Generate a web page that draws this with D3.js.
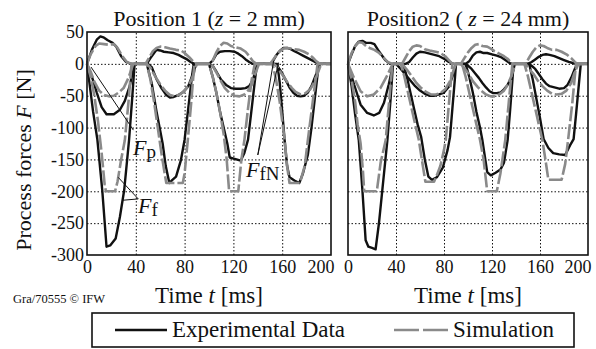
<!DOCTYPE html>
<html lang="en">
<head>
<meta charset="UTF-8">
<title>Process forces</title>
<script src="https://d3js.org/d3.v7.min.js"></script>
<style>
    body { margin: 0; background: #fff; }
    svg, svg text { font-family: "Liberation Serif", "Times New Roman", Times, "DejaVu Serif", serif !important; fill: #111; }
    .grid line { stroke: #111; stroke-width: 1; stroke-dasharray: 1.5,2; }
    .grid .domain { display: none; }
    .axis .domain { display: none; }
    .exp { fill: none; stroke: #111; stroke-width: 2.4; stroke-linejoin: round; }
    .sim { fill: none; stroke: #8a8a8a; stroke-width: 2.6; stroke-dasharray: 15,3; stroke-linejoin: round; }
</style>
</head>
<body>
<svg id="chart" width="596" height="349"></svg>
<script>
// time ticks / force ticks
const timeTicks = [0, 40, 80, 120, 160, 200];
const forceTicks = [50, 0, -50, -100, -150, -200, -250, -300];

// Position 1 (z = 2 mm), [t ms, F N]
const leftExpFp = [[0,0],[4,22],[8,38],[11,43],[14,41],[17,37],[21,33],[24,27],[28,12],[32,3],[36,0],
    [49,0],[52,9],[55,17],[57,22],[60,21],[63,19],[67,18],[71,17],[75,14],[78,11],[82,7],[85,3],[88,0],
    [100,0],[103,5],[106,15],[109,19],[113,20],[117,20],[121,19],[124,16],[127,12],[130,7],[133,3],[136,0],
    [151,0],[153,6],[155,13],[157,18],[159,22],[161,25],[164,25],[167,23],[170,20],[173,17],[177,13],[181,9],[185,5],[188,2],[190,0],[200,0]];
const leftSimFp = [[0,0],[3,15],[7,28],[10,32],[14,31],[18,30],[22,31],[25,25],[29,12],[33,2],[37,0],
    [48,0],[51,10],[54,20],[57,25],[60,27],[64,26],[68,24],[73,22],[77,21],[80,17],[84,10],[87,4],[90,0],
    [100,0],[103,5],[106,18],[109,28],[112,33],[115,32],[118,28],[122,26],[126,24],[130,19],[133,12],[136,4],[139,0],
    [150,0],[152,5],[155,13],[158,20],[161,24],[164,25],[167,24],[170,23],[174,22],[178,19],[182,15],[185,10],[188,4],[191,0],[200,0]];
const leftExpFfN = [[0,0],[4,-20],[8,-45],[12,-68],[16,-79],[22,-79],[27,-72],[31,-58],[35,-35],[38,-8],[39,0],
    [50,0],[53,-5],[57,-24],[61,-38],[65,-49],[68,-53],[71,-52],[75,-49],[79,-44],[83,-35],[86,-20],[89,-3],[90,0],
    [100,0],[103,-3],[106,-12],[110,-25],[114,-33],[118,-38],[122,-39],[126,-39],[130,-38],[133,-35],[136,-25],[138.5,-8],[140,0],
    [154,0],[157,-6],[160,-15],[163,-26],[166,-37],[169,-45],[172,-50],[175,-51],[178,-50],[181,-45],[184,-35],[187,-20],[190,-6],[191,0],[200,0]];
const leftSimFfN = [[0,0],[3,-12],[6,-28],[10,-42],[14,-49],[18,-51],[22,-50],[26,-45],[30,-38],[34,-22],[37,-5],[38,0],
    [49,0],[52,-6],[56,-20],[60,-32],[64,-42],[68,-49],[72,-51],[76,-48],[80,-42],[84,-32],[87,-18],[90,0],
    [100,0],[103,-3],[107,-17],[110,-28],[113,-38],[117,-46],[121,-50],[125,-51],[129,-48],[132,-42],[135,-33],[138,-15],[141,0],
    [153,0],[156,-5],[159,-14],[162,-22],[165,-31],[168,-38],[171,-44],[175,-48],[179,-46],[183,-40],[186,-30],[189,-15],[192,0],[200,0]];
const leftExpFf = [[0,0],[2,-30],[5,-75],[8.5,-119],[12.5,-198],[16,-287],[19,-285],[23.5,-274],[27,-240],[30.5,-198],[34.5,-119],[37,-55],[39,0],
    [49,0],[53,-30],[57,-75],[60,-105],[62,-125],[64.5,-160],[67.5,-187],[70,-182],[73,-177],[77,-151],[80,-119],[83,-70],[86,-20],[87.5,0],
    [100,0],[103,-20],[106,-45],[109,-75],[112,-100],[115,-125],[117,-147],[121,-149],[126,-152],[129,-140],[132,-119],[135,-70],[138,-20],[139.5,0],
    [156,0],[158,-30],[160,-75],[162,-120],[164,-160],[166,-178],[170,-183],[174,-187],[177,-172],[181,-143],[184,-100],[187,-50],[190,0],[200,0]];
const leftSimFf = [[0,0],[3,-20],[6,-50],[9,-90],[12,-140],[14.5,-190],[15.5,-200],[23,-200],[25,-185],[28,-150],[31,-120],[34,-60],[36.5,0],
    [49,0],[52,-25],[55,-60],[58,-100],[61,-140],[63.5,-170],[65,-187],[78.5,-187],[80,-172],[82.6,-120],[85,-70],[88,0],
    [100,0],[103,-20],[106,-45],[109,-75],[112,-110],[114.5,-150],[116.5,-200],[124,-200],[126.5,-151],[129,-120],[132,-70],[135,-25],[137.5,0],
    [152,0],[155,-25],[158,-60],[160,-90],[162,-119],[164,-160],[166,-187],[174.5,-187],[178.5,-160],[181,-120],[184,-75],[187,-30],[189,0],[200,0]];

// Position2 (z = 24 mm)
const rightExpFp = [[0,0],[3,15],[6,28],[9,35],[12,36],[15,33],[19,33],[22,31],[25,22],[28,14],[31,6],[35,0],
    [48,0],[51,3],[54,10],[57,16],[60,19],[64,18],[68,16],[72,14],[76,12],[80,8],[84,3],[88,0],
    [98,0],[101,4],[104,13],[107,18],[110,19],[113,17],[116,17],[120,15],[124,13],[128,10],[132,5],[135,1],[137,0],
    [150,0],[153,3],[156,7],[159,11],[162,14],[165,15],[168,14],[172,12],[176,9],[180,6],[184,3],[188,1],[190,0],[200,0]];
const rightSimFp = [[0,0],[3,17],[6,28],[9,34],[12,33],[15,28],[18,25],[22,22],[26,17],[30,9],[33,3],[37,0],
    [45,0],[48,10],[51,20],[54,27],[57,29],[60,28],[64,23],[68,21],[73,19],[77,17],[81,12],[84,6],[87,0],
    [94,0],[97,9],[100,18],[103,25],[106,30],[109,31],[112,28],[116,27],[119,24],[122,20],[126,16],[130,12],[133,8],[136,2],[137,0],
    [148,0],[151,10],[154,19],[157,26],[160,29],[163,28],[166,25],[170,22],[174,22],[178,19],[182,15],[186,9],[189,3],[191,0],[200,0]];
const rightExpFfN = [[0,0],[5,-32],[10.5,-64],[16,-77],[21.5,-81],[26,-77],[30,-61],[34,-32],[37.5,-2],[38,0],
    [40,0],[44,-8],[48,-17],[52,-26],[56,-35],[60,-42],[64,-47],[68,-50],[72,-50],[76,-48],[80,-45],[84,-36],[87,-20],[89,-5],[90,0],
    [97,0],[100,-3],[103,-8],[106,-15],[109,-22],[112,-30],[115,-37],[118,-43],[121,-46],[124,-46],[127,-45],[130,-40],[133,-33],[136,-22],[138,-8],[139,0],
    [150,0],[153,-3],[156,-8],[159,-16],[162,-24],[165,-31],[168,-35],[172,-37],[176,-39],[180,-38],[183,-33],[186,-22],[189,-8],[191,0],[200,0]];
const rightSimFfN = [[0,0],[5,-22],[10.5,-43],[16,-51],[21.5,-48],[27,-38],[33,-17],[37,-1],[38,0],
    [45,0],[49,-9],[53,-19],[57,-30],[61,-38],[65,-44],[69,-48],[73,-48],[77,-46],[81,-40],[85,-27],[88,-10],[90,0],
    [94,0],[97,-7],[101,-17],[104,-27],[108,-36],[111,-42],[115,-48],[119,-51],[123,-51],[126,-48],[130,-42],[133,-33],[136,-20],[139,-3],[140,0],
    [148,0],[151,-8],[155,-17],[158,-26],[162,-35],[166,-42],[170,-47],[174,-48],[178,-47],[182,-42],[186,-30],[189,-13],[192,0],[200,0]];
const rightExpFf = [[0,0],[3,-35],[6,-80],[9,-120],[12,-198],[14.7,-277],[17,-287],[20,-289],[23,-291],[25.8,-250],[28.6,-198],[32.8,-120],[35.5,-55],[37.5,0],
    [46,0],[49,-20],[52,-45],[55,-70],[58,-95],[61,-115],[64,-150],[67,-177],[70,-182],[74,-178],[79,-163],[83,-135],[85,-115],[87,-70],[89,-25],[90,0],
    [98,0],[101,-20],[104,-45],[107,-75],[110,-100],[112,-120],[114,-145],[116,-170],[119,-175],[123,-171],[127,-166],[130,-155],[133,-120],[135,-75],[137,-25],[138,0],
    [151,0],[154,-25],[157,-55],[160,-85],[163,-118],[167,-132],[171,-140],[176,-142],[181,-143],[185,-128],[188,-118],[190,-80],[192,-40],[194,0],[200,0]];
const rightSimFf = [[0,0],[3,-25],[6,-60],[8,-95],[10.5,-125],[12.5,-170],[13.5,-200],[24,-200],[27.2,-155],[31.4,-120],[34,-65],[37,0],
    [44,0],[47,-20],[50,-45],[53,-70],[56,-95],[59,-119],[61.5,-150],[64.5,-185],[71.7,-185],[74,-175],[77,-160],[80,-135],[81.5,-119],[84,-65],[87,0],
    [95,0],[98,-20],[101,-45],[104,-70],[107,-95],[110,-119],[113,-150],[116,-200],[124,-200],[127,-172],[131,-120],[134,-60],[137,0],
    [147,0],[150,-20],[153,-45],[156,-70],[159,-95],[162,-120],[164.5,-150],[167,-182],[178,-182],[181,-157],[184,-110],[187,-60],[190,0],[200,0]];

// leader lines for the force labels (data units of the left panel)
const leaderFp = [[[3.3,-5],[38,-104]]];
const leaderFf = [[[25.5,-178],[42,-212]], [[29.6,-214],[42,-212]]];
const leaderFfN = [[[140,-143],[153,5]], [[140,-143],[157,2]]];

const serif = "Liberation Serif, Times New Roman, Times, DejaVu Serif, serif";
const svg = d3.select("#chart").attr("font-family", serif);
const y = d3.scaleLinear().domain([-300, 50]).range([255, 32]);

const panels = [
    { range: [87, 331], title: ["Position 1 (", "z", " = 2 mm)"], exp: [leftExpFp, leftExpFfN, leftExpFf], sim: [leftSimFp, leftSimFfN, leftSimFf], yLabels: true },
    { range: [348, 588], title: ["Position2 ( ", "z", " = 24 mm)"], exp: [rightExpFp, rightExpFfN, rightExpFf], sim: [rightSimFp, rightSimFfN, rightSimFf], yLabels: false }
];

const xs = [];
panels.forEach(p => {
    const x = d3.scaleLinear().domain([0, 200]).range(p.range);
    xs.push(x);
    const w = p.range[1] - p.range[0];
    const cx = (p.range[0] + p.range[1]) / 2;

    // grid
    svg.append("g").attr("class", "grid")
        .attr("transform", `translate(0,${y(-300)})`)
        .call(d3.axisBottom(x).tickValues([40, 80, 120, 160]).tickSize(-(y(-300) - y(50))).tickFormat(""));
    svg.append("g").attr("class", "grid")
        .attr("transform", `translate(${p.range[0]},0)`)
        .call(d3.axisLeft(y).tickValues([0, -50, -100, -150, -200, -250]).tickSize(-w).tickFormat(""));

    const line = d3.line().x(d => x(d[0])).y(d => y(d[1]));
    p.exp.forEach(s => svg.append("path").attr("class", "exp").attr("d", line(s)));
    p.sim.forEach(s => svg.append("path").attr("class", "sim").attr("d", line(s)));

    svg.append("rect")
        .attr("x", p.range[0]).attr("y", y(50))
        .attr("width", w).attr("height", y(-300) - y(50))
        .attr("fill", "none").attr("stroke", "#111").attr("stroke-width", 1.6);

    // x labels
    const xa = svg.append("g").attr("class", "axis")
        .attr("transform", `translate(0,${y(-300)})`)
        .call(d3.axisBottom(x).tickValues(timeTicks).tickSize(0).tickPadding(5));
    xa.attr("font-family", serif).attr("font-size", 18);
    xa.selectAll(".tick").filter(d => d === 200).select("text").attr("text-anchor", "end").attr("dx", 3);

    if (p.yLabels) {
        const ya = svg.append("g").attr("class", "axis")
            .attr("transform", `translate(${p.range[0]},0)`)
            .call(d3.axisLeft(y).tickValues(forceTicks).tickSize(0).tickPadding(3).tickFormat(d => d < 0 ? "-" + Math.abs(d) : d));
        ya.attr("font-family", serif).attr("font-size", 18);
    }

    // title
    const t = svg.append("text").attr("x", cx).attr("y", 26).attr("text-anchor", "middle").attr("font-size", 22);
    t.append("tspan").text(p.title[0]);
    t.append("tspan").attr("font-style", "italic").text(p.title[1]);
    t.append("tspan").text(p.title[2]);

    // time label
    const tl = svg.append("text").attr("x", cx).attr("y", 303).attr("text-anchor", "middle").attr("font-size", 23);
    tl.append("tspan").text("Time ");
    tl.append("tspan").attr("font-style", "italic").text("t");
    tl.append("tspan").text(" [ms]");
});

// y label
const yl = svg.append("text").attr("transform", "translate(31,160) rotate(-90)")
    .attr("text-anchor", "middle").attr("font-size", 22);
yl.append("tspan").text("Process forces ");
yl.append("tspan").attr("font-style", "italic").text("F");
yl.append("tspan").text(" [N]");

// annotations in left panel
const xl = xs[0];
[leaderFp, leaderFf, leaderFfN].forEach(group => group.forEach(seg => {
    svg.append("line")
        .attr("x1", xl(seg[0][0])).attr("y1", y(seg[0][1]))
        .attr("x2", xl(seg[1][0])).attr("y2", y(seg[1][1]))
        .attr("stroke", "#111").attr("stroke-width", 1);
}));

function forceLabel(px, py, sub) {
    const t = svg.append("text").attr("x", px).attr("y", py).attr("font-size", 22);
    t.append("tspan").attr("font-style", "italic").text("F");
    t.append("tspan").attr("font-size", 19).attr("dy", 3).text(sub);
}
forceLabel(133, 155, "p");
forceLabel(138, 213, "f");
forceLabel(246, 177, "fN");

svg.append("text").attr("x", 13).attr("y", 303).attr("font-size", 12.5).text("Gra/70555 \u00a9 IFW");

// legend
const lg = svg.append("g");
lg.append("rect").attr("x", 92).attr("y", 313).attr("width", 482).attr("height", 34)
    .attr("fill", "none").attr("stroke", "#111").attr("stroke-width", 1.6);
lg.append("line").attr("class", "exp").attr("x1", 115).attr("x2", 167).attr("y1", 330).attr("y2", 330);
lg.append("text").attr("x", 172).attr("y", 337).attr("font-size", 23).text("Experimental Data");
lg.append("line").attr("class", "sim").attr("x1", 394).attr("x2", 449).attr("y1", 330).attr("y2", 330)
    .style("stroke-dasharray", "25,4");
lg.append("text").attr("x", 453).attr("y", 337).attr("font-size", 23).text("Simulation");
</script>
</body>
</html>
